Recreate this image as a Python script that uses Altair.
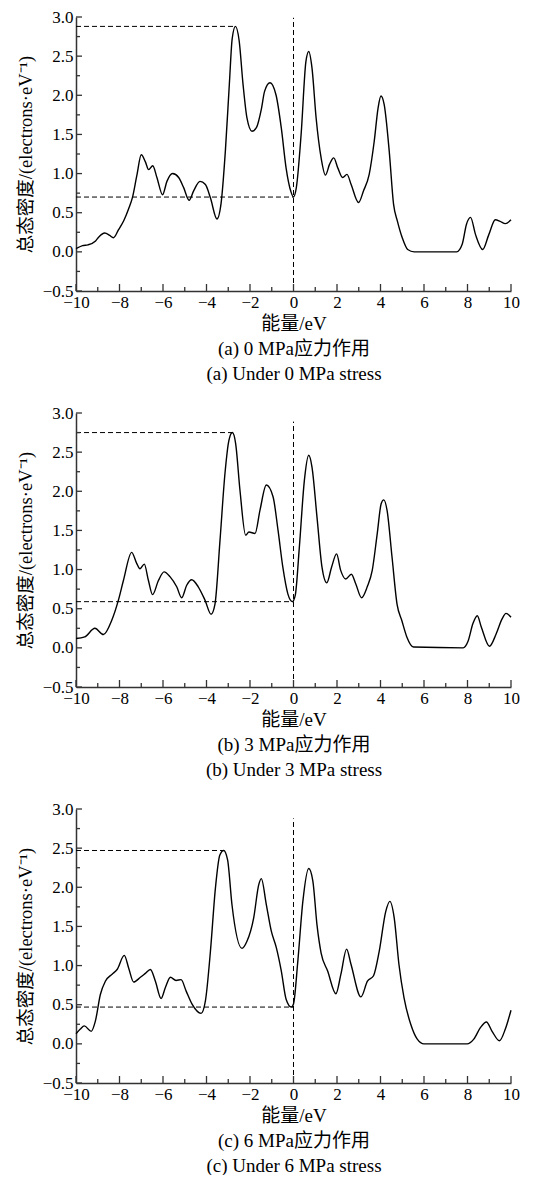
import altair as alt
import pandas as pd

# ---------------- data ----------------
energy_a = [-10.0, -9.7, -9.45, -9.1, -8.95, -8.68, -8.45, -8.28, -8.05, -7.8, -7.58, -7.4, -7.2, -7.0,
            -6.81, -6.66, -6.47, -6.28, -6.02, -5.82, -5.56, -5.28, -5.05, -4.8, -4.59, -4.3, -4.05,
            -3.82, -3.52, -3.33, -3.13, -2.95, -2.82, -2.67, -2.5, -2.32, -2.14, -1.91, -1.7, -1.48,
            -1.33, -1.08, -0.8, -0.56, -0.34, -0.12, 0.0, 0.13, 0.35, 0.57, 0.7, 0.85, 1.04, 1.27,
            1.47, 1.66, 1.85, 2.04, 2.26, 2.46, 2.65, 2.99, 3.22, 3.48, 3.71, 3.89, 4.02, 4.17, 4.4,
            4.6, 4.78, 5.0, 5.25, 5.55, 7.5, 7.76, 7.95, 8.14, 8.37, 8.7, 8.98, 9.28, 9.5, 9.74, 10.0]
dos_a = [0.04, 0.08, 0.09, 0.14, 0.19, 0.24, 0.21, 0.18, 0.28, 0.40, 0.55, 0.70, 0.98, 1.24,
         1.15, 1.05, 1.10, 0.95, 0.73, 0.90, 1.00, 0.95, 0.82, 0.66, 0.78, 0.90, 0.86,
         0.69, 0.42, 0.62, 1.30, 2.14, 2.72, 2.88, 2.70, 2.14, 1.71, 1.54, 1.59, 1.82,
         2.05, 2.16, 2.00, 1.58, 1.07, 0.77, 0.70, 0.82, 1.50, 2.43, 2.56, 2.35, 1.71, 1.20,
         0.98, 1.12, 1.20, 1.07, 0.95, 0.99, 0.86, 0.63, 0.78, 0.99, 1.41, 1.84, 1.99, 1.88, 1.29,
         0.61, 0.39, 0.18, 0.03, 0.0, 0.0, 0.10, 0.35, 0.44, 0.22, 0.03, 0.22, 0.41, 0.39, 0.36, 0.41]

energy_b = [-10.0, -9.6, -9.13, -8.74, -8.36, -8.05, -7.82, -7.44, -7.21, -7.06, -6.86, -6.67, -6.48,
            -6.21, -5.95, -5.68, -5.37, -5.14, -4.91, -4.68, -4.38, -4.07, -3.79, -3.61, -3.38, -3.15,
            -2.97, -2.81, -2.66, -2.46, -2.2, -2.05, -1.77, -1.54, -1.25, -0.94, -0.71, -0.49, -0.26,
            -0.05, 0.08, 0.27, 0.5, 0.7, 0.85, 1.08, 1.31, 1.53, 1.75, 1.98, 2.17, 2.4, 2.66, 2.86,
            3.13, 3.39, 3.62, 3.85, 4.03, 4.15, 4.3, 4.53, 4.76, 4.98, 5.21, 5.52, 7.8, 8.02, 8.25,
            8.45, 8.63, 9.01, 9.32, 9.59, 9.77, 10.0]
dos_b = [0.12, 0.14, 0.25, 0.17, 0.35, 0.61, 0.86, 1.22, 1.08, 1.01, 1.07, 0.86, 0.68,
         0.86, 0.97, 0.91, 0.78, 0.64, 0.80, 0.87, 0.78, 0.61, 0.43, 0.56, 1.37, 2.23,
         2.65, 2.75, 2.61, 2.01, 1.44, 1.48, 1.46, 1.76, 2.08, 1.93, 1.50, 1.03, 0.69,
         0.59, 0.67, 1.29, 2.14, 2.46, 2.31, 1.67, 1.03, 0.83, 1.03, 1.20, 0.99, 0.88, 0.94, 0.82,
         0.64, 0.78, 0.99, 1.46, 1.84, 1.89, 1.76, 1.16, 0.56, 0.35, 0.14, 0.01, 0.0, 0.08, 0.31,
         0.41, 0.27, 0.02, 0.18, 0.37, 0.44, 0.39]

energy_c = [-10.0, -9.8, -9.62, -9.3, -9.11, -8.88, -8.65, -8.34, -8.11, -7.78, -7.58, -7.35, -7.04,
            -6.81, -6.58, -6.35, -6.09, -5.89, -5.66, -5.4, -5.17, -4.93, -4.67, -4.25, -4.05, -3.82,
            -3.59, -3.39, -3.21, -3.03, -2.83, -2.37, -2.14, -1.83, -1.6, -1.48, -1.25, -1.02, -0.79,
            -0.56, -0.34, -0.1, 0.0, 0.2, 0.43, 0.7, 0.89, 1.08, 1.27, 1.57, 1.95, 2.18, 2.44, 2.64,
            3.1, 3.4, 3.68, 3.94, 4.24, 4.43, 4.63, 4.85, 5.08, 5.39, 5.69, 6.0, 7.98, 8.29, 8.6,
            8.87, 9.13, 9.47, 9.74, 10.0]
dos_c = [0.13, 0.19, 0.23, 0.16, 0.29, 0.63, 0.80, 0.89, 0.95, 1.13, 0.97, 0.79, 0.85,
         0.90, 0.95, 0.80, 0.58, 0.72, 0.85, 0.81, 0.82, 0.67, 0.51, 0.39, 0.55, 1.18,
         1.99, 2.41, 2.47, 2.35, 1.78, 1.22, 1.31, 1.61, 2.03, 2.11, 1.78, 1.44, 1.23,
         0.93, 0.57, 0.47, 0.51, 1.06, 1.82, 2.24, 2.08, 1.52, 1.16, 0.93, 0.64, 0.89, 1.21, 1.02,
         0.60, 0.80, 0.87, 1.18, 1.69, 1.82, 1.61, 1.01, 0.59, 0.25, 0.06, 0.0, 0.0, 0.06, 0.21,
         0.28, 0.16, 0.04, 0.19, 0.43]

peak_x = [-2.67, -2.81, -3.21]
peak_y = [2.88, 2.75, 2.47]
fermi_y = [0.70, 0.59, 0.47]
vline_top = [2.99, 2.89, 2.88]

captions_cn = ["(a) 0 MPa应力作用", "(b) 3 MPa应力作用", "(c) 6 MPa应力作用"]
captions_en = ["(a) Under 0 MPa stress", "(b) Under 3 MPa stress", "(c) Under 6 MPa stress"]
x_title = "能量/eV"
y_title = "总态密度/(electrons·eV⁻¹)"

y_major = [-0.5, 0.0, 0.5, 1.0, 1.5, 2.0, 2.5, 3.0]
y_minor = [-0.25, 0.25, 0.75, 1.25, 1.75, 2.25, 2.75]
x_major = [-10, -8, -6, -4, -2, 0, 2, 4, 6, 8, 10]
x_minor = [-9, -7, -5, -3, -1, 1, 3, 5, 7, 9]

# ---------------- styling ----------------
W, H = 435, 274
FONT = "Liberation Serif, Noto Sans CJK SC"
AX = "#333333"

for a, b in [(energy_a, dos_a), (energy_b, dos_b), (energy_c, dos_c)]:
    assert len(a) == len(b)


def panel(i, xs, ys):
    xsc = alt.Scale(domain=[-10, 10], nice=False, zero=False)
    ysc = alt.Scale(domain=[-0.5, 3.0], nice=False, zero=False)

    xaxis = alt.Axis(
        values=x_major, format="d", grid=False, ticks=False, tickSize=0,
        labelFont=FONT, labelFontSize=17, labelColor="black", labelPadding=3,
        labelFlush=False, labelOverlap=False,
        domainColor=AX, domainWidth=1.5,
        title=[x_title, captions_cn[i], captions_en[i]],
        titleFont=FONT, titleFontSize=19, titleFontWeight="normal", titleColor="black",
        titleY=23, titleLineHeight=25, titleBaseline="top")
    yaxis = alt.Axis(
        values=y_major, labelExpr="format(datum.value, '.1f')", grid=False,
        ticks=False, tickSize=0,
        labelFont=FONT, labelFontSize=17, labelColor="black", labelPadding=3,
        labelFlush=False, labelOverlap=False,
        domainColor=AX, domainWidth=1.5,
        title=y_title, titleFont=FONT, titleFontSize=18.5, titleFontWeight="normal",
        titleColor="black", titleX=-41, titleY=H / 2, titleAngle=-90,
        titleBaseline="bottom", titleAlign="center")

    curve = alt.Chart(pd.DataFrame({"e": xs, "d": ys})).mark_line(
        interpolate="monotone", color="black", strokeWidth=1.4
    ).encode(
        x=alt.X("e:Q", scale=xsc, axis=xaxis),
        y=alt.Y("d:Q", scale=ysc, axis=yaxis),
    )

    hdf = pd.DataFrame({"e": [-10, -10], "e2": [peak_x[i], 0.0], "d": [peak_y[i], fermi_y[i]]})
    hlines = alt.Chart(hdf).mark_rule(color="black", strokeWidth=1, strokeDash=[5, 3]).encode(
        x=alt.X("e:Q", scale=xsc, axis=xaxis), x2="e2:Q",
        y=alt.Y("d:Q", scale=ysc, axis=yaxis))

    vdf = pd.DataFrame({"e": [0.0], "d": [-0.5], "d2": [vline_top[i]]})
    vline = alt.Chart(vdf).mark_rule(color="black", strokeWidth=1, strokeDash=[5, 3]).encode(
        x=alt.X("e:Q", scale=xsc, axis=xaxis),
        y=alt.Y("d:Q", scale=ysc, axis=yaxis), y2="d2:Q")

    ytm = alt.Chart(pd.DataFrame({"d": y_major})).mark_rule(color=AX, strokeWidth=1.3).encode(
        y=alt.Y("d:Q", scale=ysc, axis=yaxis), x=alt.value(0), x2=alt.value(6))
    ytn = alt.Chart(pd.DataFrame({"d": y_minor})).mark_rule(color=AX, strokeWidth=1.3).encode(
        y=alt.Y("d:Q", scale=ysc, axis=yaxis), x=alt.value(0), x2=alt.value(4))
    xtm = alt.Chart(pd.DataFrame({"e": x_major})).mark_rule(color=AX, strokeWidth=1.3).encode(
        x=alt.X("e:Q", scale=xsc, axis=xaxis), y=alt.value(H), y2=alt.value(H - 7))
    xtn = alt.Chart(pd.DataFrame({"e": x_minor})).mark_rule(color=AX, strokeWidth=1.3).encode(
        x=alt.X("e:Q", scale=xsc, axis=xaxis), y=alt.value(H), y2=alt.value(H - 4))

    return alt.layer(curve, hlines, vline, ytm, ytn, xtm, xtn).properties(width=W, height=H)


chart = alt.vconcat(
    panel(0, energy_a, dos_a),
    panel(1, energy_b, dos_b),
    panel(2, energy_c, dos_c),
    spacing=21,
).properties(
    padding={"left": 7, "top": 0, "right": 5, "bottom": 0}
).configure_view(stroke=None).configure_axis(labelOverlap=False)

chart.save("out.html", embed_options={"renderer": "svg", "actions": False})
